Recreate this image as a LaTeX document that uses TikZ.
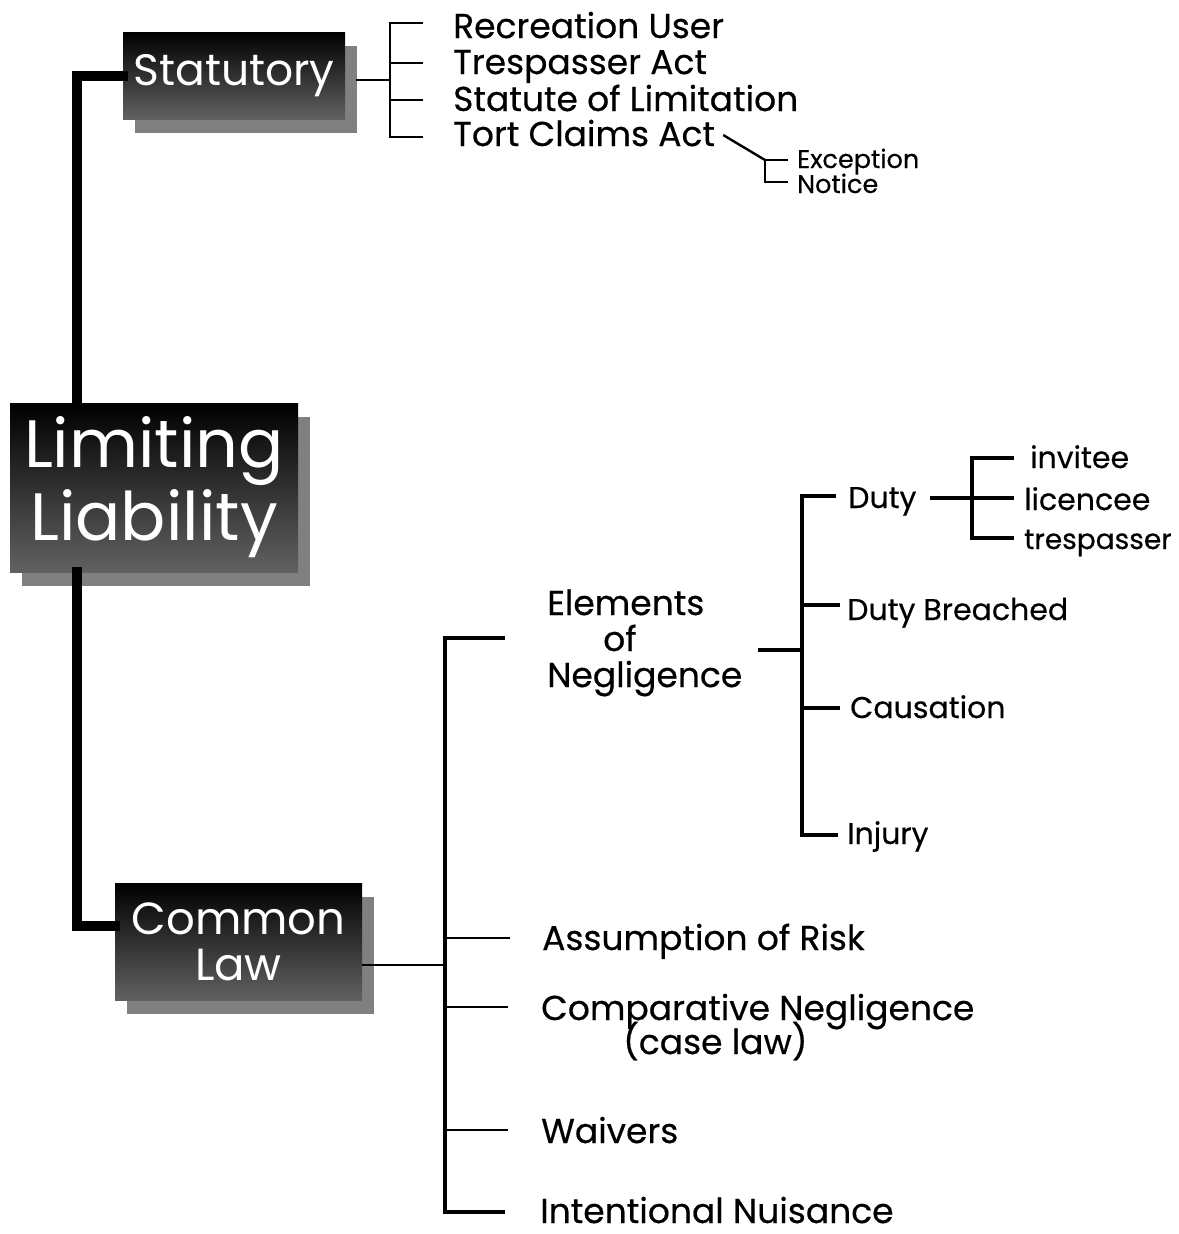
\documentclass[tikz,border=0pt]{standalone}
\usepackage{fontspec}
\setmainfont{Poppins}
\newfontfamily\heavy{Poppins}[FakeBold=0.45]
\usetikzlibrary{shadows,calc}
\begin{document}
\begin{tikzpicture}[x=1pt,y=1pt,
  hbox/.style={rectangle, inner sep=0pt, text=white, align=center,
    path picture={\shade[top color=black, middle color=black, bottom color=black!62]
      (path picture bounding box.south west) rectangle (path picture bounding box.north east);},
    drop shadow={shadow xshift=12pt, shadow yshift=-14pt, fill=black!50, opacity=1}},
  trunk/.style={line width=10pt, line join=miter, line cap=rect},
  twig/.style={line width=2.4pt},
  stem/.style={line width=3.2pt},
  lbl/.style={anchor=base west, inner sep=0pt},
  big/.style={lbl, font=\heavy\fontsize{34.5}{36}\selectfont},
  mid/.style={lbl, font=\heavy\fontsize{30}{30}\selectfont},
  small/.style={lbl, font=\heavy\fontsize{25.5}{25.5}\selectfont},
]
\useasboundingbox (0,0) rectangle (1178,-1234);

% title boxes
\node[hbox, minimum width=222pt, minimum height=87pt, font=\fontsize{44}{44}\selectfont]
  (stat) at (234,-75.5) {Statutory};
\node[hbox, minimum width=288pt, minimum height=169pt, font=\fontsize{67}{73}\selectfont]
  (ll) at (154,-487.5) {Limiting\\Liability};
\node[hbox, minimum width=247pt, minimum height=117pt, font=\fontsize{45}{46}\selectfont]
  (cl) at (238.5,-941.5) {Common\\Law};

% heavy trunk joining the boxes
\coordinate (tx) at (77,0);
\coordinate (clj) at (115,-926);
\draw[trunk] (stat.west) -| (tx |- ll.north);
\draw[trunk] (tx |- ll.south) |- (clj);

% statutory branch
\node[big] (rec) at (453,-38) {Recreation User};
\node[big] (tre) at (453,-74) {Trespasser Act};
\node[big] (sol) at (453,-111) {Statute of Limitation};
\node[big] (tca) at (453,-146) {Tort Claims Act};
\node[small] (exc) at (797,-168) {Exception};
\node[small] (not) at (797,-193) {Notice};

\coordinate (sj) at (390,-80);
\draw[twig] (356,-80) -- (sj);
\draw[twig] (423,-23) -| (390,-137) -- (423,-137);
\draw[twig] (390,-63) -- (423,-63);
\draw[twig] (390,-100) -- (423,-100);
\coordinate (tcaj) at (765,-160);
\draw[twig] ([xshift=8pt,yshift=-2pt]tca.east) -- (tcaj);
\draw[twig] (788,-160) -| (765,-182) -- (788,-182);

% common law branch
\node[big, align=left] (eon) at (547,-687)
  {Elements\\\hspace*{56pt}of\\Negligence};
\node[big] (aor) at (542,-950) {Assumption of Risk};
\node[big] (cng) at (541,-1020) {Comparative Negligence};
\node[big] (cas) at (623,-1054) {(case law)};
\node[big] (wai) at (541,-1143) {Waivers};
\node[big] (inu) at (540,-1223) {Intentional Nuisance};

\draw[twig] (cl.east |- 0,-965) -- (445,-965);
\draw[stem] (505,-638) -| (445,-1212) -- (505,-1212);
\draw[twig] (445,-938) -- (510,-938);
\draw[twig] (445,-1007) -- (508,-1007);
\draw[twig] (445,-1130) -- (508,-1130);

% elements of negligence
\node[mid] (duty) at (848,-508) {Duty};
\node[mid] (dbr) at (847,-620) {Duty Breached};
\node[mid] (cau) at (850,-718) {Causation};
\node[mid] (inj) at (847,-844) {Injury};
\draw[stem] (758,-650) -- (802,-650);
\draw[stem] (836,-496) -| (802,-835) -- (838,-835);
\draw[stem] (802,-605) -- (840,-605);
\draw[stem] (802,-708) -- (840,-708);

% duty owed to
\node[mid] (inv) at (1030,-468) {invitee};
\node[mid] (lic) at (1024,-510) {licencee};
\node[mid, font=\heavy\fontsize{28}{28}\selectfont] (trs) at (1024,-549) {trespasser};
\draw[stem] (930,-498) -- (1014,-498);
\draw[stem] (1014,-458) -| (972,-538) -- (1014,-538);
\end{tikzpicture}
\end{document}
